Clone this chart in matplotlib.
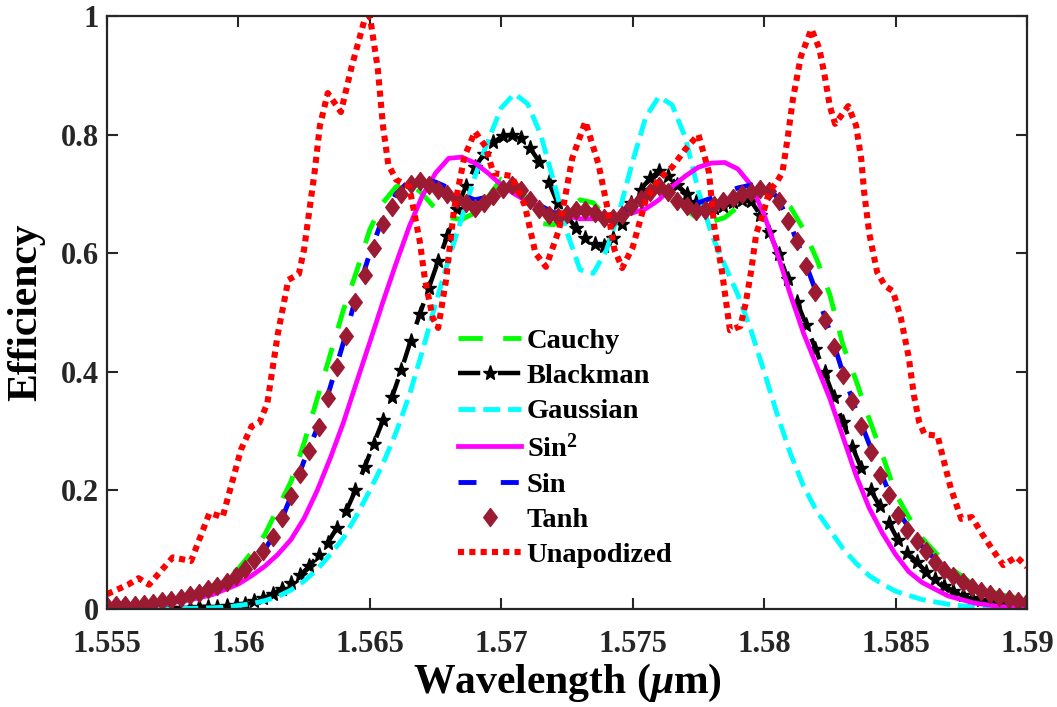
import numpy as np
import matplotlib
matplotlib.use('Agg')
import matplotlib.pyplot as plt

plt.rcParams['font.family'] = 'Liberation Serif'
plt.rcParams['font.weight'] = 'bold'
plt.rcParams['axes.labelweight'] = 'bold'
plt.rcParams['mathtext.fontset'] = 'custom'
plt.rcParams['mathtext.rm'] = 'Liberation Serif:bold'
plt.rcParams['mathtext.bf'] = 'Liberation Serif:bold'
plt.rcParams['mathtext.it'] = 'Liberation Serif:italic:bold'

# wavelength samples (um) of the two marker curves, 101 points
wl_grid = np.linspace(1.555, 1.59, 101)

tanh_eff = [0.005, 0.006, 0.006, 0.007, 0.008, 0.010, 0.013, 0.016, 0.019, 0.023,
            0.027, 0.033, 0.039, 0.046, 0.055, 0.068, 0.082, 0.098, 0.121, 0.153,
            0.190, 0.228, 0.267, 0.307, 0.356, 0.408, 0.461, 0.517, 0.564, 0.608,
            0.650, 0.678, 0.700, 0.716, 0.722, 0.715, 0.706, 0.699, 0.692, 0.685,
            0.676, 0.684, 0.696, 0.709, 0.715, 0.706, 0.690, 0.674, 0.665, 0.661,
            0.666, 0.672, 0.673, 0.667, 0.660, 0.660, 0.665, 0.679, 0.692, 0.704,
            0.713, 0.703, 0.688, 0.680, 0.671, 0.672, 0.682, 0.688, 0.693, 0.699,
            0.703, 0.709, 0.705, 0.688, 0.655, 0.620, 0.578, 0.535, 0.488, 0.442,
            0.395, 0.351, 0.308, 0.265, 0.226, 0.192, 0.159, 0.133, 0.115, 0.098,
            0.080, 0.066, 0.055, 0.045, 0.037, 0.030, 0.025, 0.020, 0.017, 0.014,
            0.011]

blackman_eff = [0.000, 0.000, 0.000, 0.001, 0.001, 0.001, 0.001, 0.002, 0.002, 0.002,
                0.003, 0.004, 0.004, 0.005, 0.007, 0.009, 0.013, 0.018, 0.025, 0.034,
                0.044, 0.057, 0.072, 0.091, 0.112, 0.137, 0.165, 0.200, 0.239, 0.279,
                0.318, 0.358, 0.403, 0.452, 0.497, 0.542, 0.587, 0.629, 0.674, 0.713,
                0.745, 0.768, 0.787, 0.797, 0.800, 0.794, 0.777, 0.754, 0.720, 0.684,
                0.663, 0.642, 0.625, 0.615, 0.612, 0.626, 0.650, 0.685, 0.707, 0.726,
                0.738, 0.731, 0.715, 0.700, 0.686, 0.679, 0.677, 0.680, 0.686, 0.689,
                0.688, 0.665, 0.635, 0.599, 0.557, 0.518, 0.479, 0.439, 0.399, 0.357,
                0.315, 0.274, 0.237, 0.201, 0.173, 0.145, 0.116, 0.095, 0.080, 0.063,
                0.050, 0.039, 0.030, 0.023, 0.019, 0.015, 0.011, 0.008, 0.007, 0.005,
                0.004]

cauchy_wl = [1.555, 1.556, 1.557, 1.558, 1.559, 1.5595, 1.560, 1.5605, 1.561, 1.5615,
             1.562, 1.5625, 1.563, 1.5635, 1.564, 1.5645, 1.565, 1.5655, 1.566, 1.5665,
             1.567, 1.5675, 1.568, 1.5685, 1.569, 1.5695, 1.570, 1.5705, 1.571, 1.5715,
             1.572, 1.5725, 1.573, 1.5735, 1.574, 1.5745, 1.575, 1.5755, 1.576, 1.5765,
             1.577, 1.5775, 1.578, 1.5785, 1.579, 1.5795, 1.580, 1.5805, 1.581, 1.5815,
             1.582, 1.5825, 1.583, 1.5835, 1.584, 1.5845, 1.585, 1.5855, 1.586, 1.587,
             1.588, 1.589, 1.590]
cauchy_eff = [0.004, 0.006, 0.010, 0.020, 0.038, 0.050, 0.068, 0.095, 0.125, 0.170,
              0.215, 0.280, 0.355, 0.430, 0.505, 0.570, 0.640, 0.685, 0.712, 0.720,
              0.700, 0.675, 0.660, 0.657, 0.668, 0.695, 0.725, 0.720, 0.690, 0.650,
              0.648, 0.668, 0.690, 0.685, 0.660, 0.650, 0.675, 0.705, 0.720, 0.705,
              0.675, 0.657, 0.653, 0.660, 0.678, 0.695, 0.703, 0.700, 0.678, 0.640,
              0.590, 0.530, 0.445, 0.385, 0.320, 0.260, 0.195, 0.155, 0.120, 0.072,
              0.040, 0.024, 0.016]

gauss_wl = [1.555, 1.557, 1.558, 1.559, 1.5595, 1.560, 1.5605, 1.561, 1.5615, 1.562,
            1.5625, 1.563, 1.5635, 1.564, 1.5645, 1.565, 1.5655, 1.566, 1.5665, 1.567,
            1.5675, 1.568, 1.5685, 1.569, 1.5695, 1.570, 1.5705, 1.571, 1.5715, 1.572,
            1.5725, 1.573, 1.5735, 1.574, 1.5745, 1.575, 1.5755, 1.576, 1.5765, 1.577,
            1.5775, 1.578, 1.5785, 1.579, 1.5795, 1.580, 1.5805, 1.581, 1.5815, 1.582,
            1.5825, 1.583, 1.5835, 1.584, 1.5845, 1.585, 1.586, 1.587, 1.588, 1.589,
            1.590]
gauss_eff = [0.000, 0.000, 0.001, 0.002, 0.003, 0.006, 0.009, 0.014, 0.021, 0.032,
             0.047, 0.067, 0.092, 0.120, 0.158, 0.200, 0.245, 0.298, 0.360, 0.435,
             0.515, 0.590, 0.660, 0.730, 0.790, 0.845, 0.869, 0.852, 0.800, 0.720,
             0.635, 0.572, 0.566, 0.605, 0.672, 0.755, 0.830, 0.864, 0.850, 0.795,
             0.705, 0.632, 0.580, 0.530, 0.470, 0.400, 0.328, 0.262, 0.207, 0.165,
             0.133, 0.102, 0.077, 0.056, 0.042, 0.030, 0.016, 0.008, 0.003, 0.001,
             0.000]

sin2_wl = [1.555, 1.556, 1.557, 1.558, 1.559, 1.560, 1.5605, 1.561, 1.5615, 1.562,
           1.5625, 1.563, 1.5635, 1.564, 1.5645, 1.565, 1.5655, 1.566, 1.5665, 1.567,
           1.5675, 1.568, 1.5685, 1.569, 1.5695, 1.570, 1.5705, 1.571, 1.572, 1.573,
           1.574, 1.575, 1.5755, 1.576, 1.5765, 1.577, 1.5775, 1.578, 1.5785, 1.579,
           1.5795, 1.580, 1.5805, 1.581, 1.5815, 1.582, 1.5825, 1.583, 1.5835, 1.584,
           1.5845, 1.585, 1.5855, 1.586, 1.587, 1.588, 1.589, 1.590]
sin2_eff = [0.002, 0.004, 0.008, 0.014, 0.024, 0.042, 0.056, 0.072, 0.092, 0.117,
            0.153, 0.200, 0.255, 0.315, 0.383, 0.450, 0.518, 0.583, 0.645, 0.697,
            0.735, 0.760, 0.762, 0.752, 0.735, 0.715, 0.700, 0.687, 0.667, 0.658,
            0.658, 0.668, 0.675, 0.690, 0.712, 0.730, 0.745, 0.752, 0.753, 0.742,
            0.715, 0.665, 0.600, 0.530, 0.465, 0.410, 0.355, 0.290, 0.225, 0.170,
            0.128, 0.092, 0.063, 0.045, 0.022, 0.010, 0.004, 0.002]

sin_wl = [1.555, 1.556, 1.557, 1.558, 1.559, 1.560, 1.5605, 1.561, 1.5615, 1.562,
          1.5625, 1.563, 1.5635, 1.564, 1.5645, 1.565, 1.5655, 1.566, 1.5665, 1.567,
          1.5675, 1.568, 1.5685, 1.569, 1.5695, 1.570, 1.5705, 1.571, 1.5715, 1.572,
          1.5725, 1.573, 1.5735, 1.574, 1.5745, 1.575, 1.5755, 1.576, 1.5765, 1.577,
          1.5775, 1.578, 1.5785, 1.579, 1.5795, 1.580, 1.5805, 1.581, 1.5815, 1.582,
          1.5825, 1.583, 1.5835, 1.584, 1.585, 1.586, 1.587, 1.588, 1.589, 1.590]
sin_eff = [0.005, 0.007, 0.012, 0.021, 0.035, 0.058, 0.078, 0.100, 0.135, 0.190,
           0.250, 0.305, 0.375, 0.450, 0.530, 0.600, 0.660, 0.700, 0.722, 0.725,
           0.720, 0.710, 0.698, 0.690, 0.695, 0.710, 0.715, 0.698, 0.680, 0.668,
           0.670, 0.676, 0.672, 0.665, 0.668, 0.682, 0.700, 0.712, 0.705, 0.690,
           0.685, 0.693, 0.702, 0.710, 0.715, 0.712, 0.695, 0.648, 0.592, 0.532,
           0.468, 0.398, 0.335, 0.278, 0.170, 0.106, 0.062, 0.035, 0.020, 0.011]

unapod_wl = [1.5550, 1.5558, 1.5562, 1.5566, 1.5575, 1.5582, 1.5589, 1.5594, 1.5601, 1.5605,
             1.5608, 1.5611, 1.5615, 1.5619, 1.5623, 1.5625, 1.5629, 1.5631, 1.5634, 1.5639,
             1.5643, 1.5648, 1.5650, 1.5653, 1.5655, 1.5657, 1.5660, 1.5665, 1.5669, 1.5671,
             1.5674, 1.5676, 1.5679, 1.5682, 1.5686, 1.5690, 1.5694, 1.5697, 1.5704, 1.5709,
             1.5713, 1.5717, 1.5722, 1.5727, 1.5732, 1.5737, 1.5740, 1.5743, 1.5746, 1.5750,
             1.5755, 1.5760, 1.5765, 1.5770, 1.5775, 1.5779, 1.5781, 1.5784, 1.5787, 1.5791,
             1.5793, 1.5795, 1.5797, 1.5800, 1.5802, 1.5805, 1.5807, 1.5809, 1.5811, 1.5814,
             1.5818, 1.5821, 1.5823, 1.5825, 1.5827, 1.5832, 1.5835, 1.5837, 1.5838, 1.5840,
             1.5843, 1.5846, 1.5849, 1.5852, 1.5855, 1.5857, 1.5859, 1.5861, 1.5866, 1.5868,
             1.5871, 1.5875, 1.5879, 1.5883, 1.5888, 1.5891, 1.5896, 1.5900]
unapod_eff = [0.025, 0.041, 0.052, 0.041, 0.087, 0.081, 0.162, 0.155, 0.269, 0.308,
              0.314, 0.347, 0.464, 0.555, 0.565, 0.607, 0.737, 0.815, 0.870, 0.838,
              0.913, 0.994, 1.000, 0.912, 0.815, 0.750, 0.724, 0.712, 0.620, 0.555,
              0.490, 0.474, 0.555, 0.673, 0.763, 0.805, 0.780, 0.735, 0.730, 0.680,
              0.600, 0.577, 0.640, 0.760, 0.822, 0.750, 0.685, 0.607, 0.575, 0.610,
              0.690, 0.725, 0.745, 0.775, 0.800, 0.737, 0.646, 0.568, 0.470, 0.477,
              0.516, 0.568, 0.633, 0.673, 0.705, 0.721, 0.737, 0.796, 0.861, 0.932,
              0.978, 0.945, 0.900, 0.848, 0.818, 0.848, 0.815, 0.757, 0.705, 0.633,
              0.568, 0.545, 0.536, 0.491, 0.425, 0.360, 0.315, 0.295, 0.292, 0.256,
              0.204, 0.152, 0.155, 0.126, 0.093, 0.074, 0.088, 0.071]

diamond = [(0, 1), (0.75, 0), (0, -1), (-0.75, 0), (0, 1)]

fig = plt.figure(figsize=(10.57, 7.07), dpi=100)
ax = fig.add_axes([0.1012, 0.1386, 0.8704, 0.8388])

ax.plot(cauchy_wl, cauchy_eff, color='#00ff00', lw=3.5, dashes=(5, 4.2), label='Cauchy')
ax.plot(wl_grid, blackman_eff, color='black', lw=3.2, dashes=(5, 4), marker='*', ms=11,
        label='Blackman')
ax.plot(gauss_wl, gauss_eff, color='#00ffff', lw=3.5, dashes=(3.5, 1.6), label='Gaussian')
ax.plot(sin2_wl, sin2_eff, color='#ff00ff', lw=3.4, label='Sin$^2$')
ax.plot(sin_wl, sin_eff, color='#0000ff', lw=3.5, dashes=(3.7, 5), label='Sin')
ax.plot(wl_grid, tanh_eff, color='#9b1b33', ls='none', marker=diamond, ms=13, label='Tanh')
ax.plot(unapod_wl, unapod_eff, color='#ff0000', lw=4.4, dashes=(1, 0.85), label='Unapodized')

ax.set_xlim(1.555, 1.59)
ax.set_ylim(0, 1)
ax.set_xticks([1.555, 1.56, 1.565, 1.57, 1.575, 1.58, 1.585, 1.59])
ax.set_xticklabels(['1.555', '1.56', '1.565', '1.57', '1.575', '1.58', '1.585', '1.59'])
ax.set_yticks([0, 0.2, 0.4, 0.6, 0.8, 1])
ax.set_yticklabels(['0', '0.2', '0.4', '0.6', '0.8', '1'])
ax.tick_params(direction='in', length=8, width=1.5, labelsize=22, top=True, right=True,
               colors='#262626')
ax.tick_params(axis='x', pad=15)
ax.tick_params(axis='y', pad=6)
for s in ax.spines.values():
    s.set_linewidth(1.6)
    s.set_color('#262626')

ax.set_xlabel(r'Wavelength ($\mu$m)', fontsize=30, labelpad=2)
ax.set_ylabel('Efficiency', fontsize=30, labelpad=11)

ax.legend(loc='upper left', bbox_to_anchor=(0.382, 0.474), frameon=False, fontsize=20.5,
          handlelength=2.2, handletextpad=0.2, labelspacing=0.33, borderpad=0,
          borderaxespad=0, numpoints=1)

fig.savefig('out.png', dpi=100)
